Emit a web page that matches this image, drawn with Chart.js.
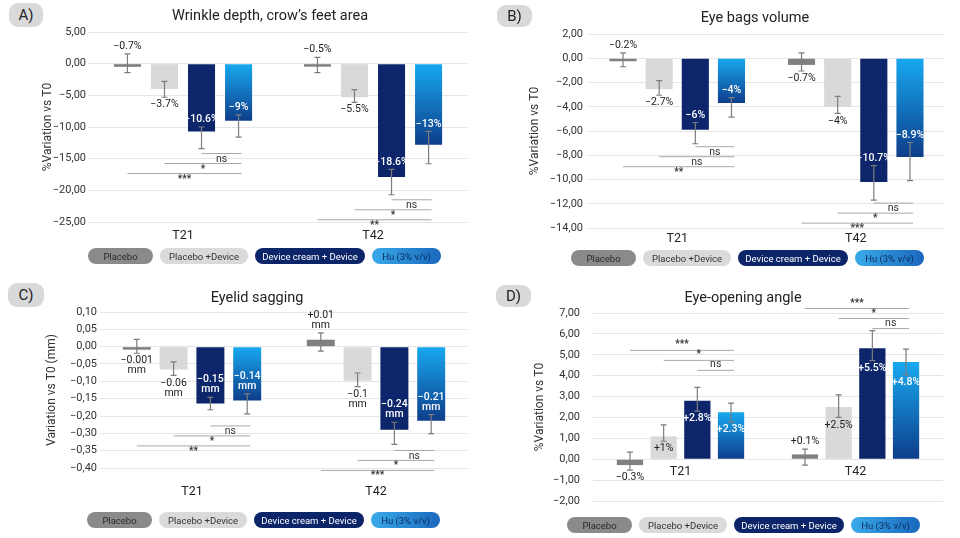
<!DOCTYPE html>
<html lang="en">
<head>
<meta charset="UTF-8">
<title>Eye contour results</title>
<script src="https://cdn.jsdelivr.net/npm/chart.js@4.4.1/dist/chart.umd.min.js"></script>
<style>
  body { margin: 0; background: #fff; font-family: Roboto, sans-serif; }
  #page { position: relative; width: 960px; height: 538px; overflow: hidden; }
  .panel { position: absolute; width: 480px; height: 269px; }
  .panel canvas { position: absolute; left: 0; top: 0; }
  .tag { position: absolute; background: #d9d9d9; border-radius: 9px; font-size: 15px; color: #222;
         display: flex; align-items: center; justify-content: center; }
  .title { position: absolute; transform: translate(-50%, -50%); font-size: 14.5px; color: #222; white-space: nowrap; }
  .legend { position: absolute; display: flex; gap: 7px; }
  .legend span { height: 16px; border-radius: 8px; font-size: 9.5px; display: flex; align-items: center; justify-content: center; }
  .legend span:nth-child(1) { width: 65px; background: #8a8a8a; color: #2a2a2a; }
  .legend span:nth-child(2) { width: 88px; background: #dadada; color: #333; }
  .legend span:nth-child(3) { width: 110px; background: #0c2468; color: #fff; }
  .legend span:nth-child(4) { width: 69px; background: linear-gradient(90deg, #3aaae9, #1a68bd); color: #0d2a5a; }
</style>
</head>
<body>
<div id="page"></div>
<script>
const groups = ['T21', 'T42'];
const seriesNames = ['Placebo', 'Placebo +Device', 'Device cream + Device', 'Hu (3% v/v)'];

// A) wrinkle depth, one row per series: [T21, T42]
const wrinkleValues  = [[-0.5, -0.45], [-4.0, -5.3], [-10.7, -17.9], [-9.0, -12.8]];
const wrinkleErrLow  = [[-1.4, -1.4], [-5.3, -6.1], [-13.4, -20.7], [-11.6, -15.8]];
const wrinkleErrHigh = [[1.55, 1.0], [-2.8, -4.1], [-10.0, -16.7], [-8.1, -10.7]];
const wrinkleLabels  = [['−0.7%', '−0.5%'], ['−3.7%', '−5.5%'], ['−10.6%', '−18.6%'], ['−9%', '−13%']];
const wrinkleSig     = [['***', '*', 'ns'], ['**', '*', 'ns']];

// B) eye bags volume
const bagsValues  = [[-0.15, -0.55], [-2.55, -4.0], [-5.9, -10.2], [-3.7, -8.15]];
const bagsErrLow  = [[-0.7, -1.05], [-3.05, -4.55], [-7.05, -11.7], [-4.85, -10.1]];
const bagsErrHigh = [[0.45, 0.45], [-1.85, -3.15], [-5.3, -8.85], [-3.25, -6.95]];
const bagsLabels  = [['−0.2%', '−0.7%'], ['−2.7%', '−4%'], ['−6%', '−10.7%'], ['−4%', '−8.9%']];
const bagsSig     = [['**', 'ns', 'ns'], ['***', '*', 'ns']];

// C) eyelid sagging (mm)
const lidValues  = [[-0.003, 0.02], [-0.066, -0.098], [-0.164, -0.24], [-0.155, -0.214]];
const lidErrLow  = [[-0.019, -0.013], [-0.083, -0.115], [-0.182, -0.282], [-0.194, -0.251]];
const lidErrHigh = [[0.021, 0.04], [-0.044, -0.076], [-0.146, -0.218], [-0.136, -0.196]];
const lidLabels  = [['−0.001\nmm', '+0.01\nmm'], ['−0.06\nmm', '−0.1\nmm'], ['−0.15\nmm', '−0.24\nmm'], ['−0.14\nmm', '−0.21\nmm']];
const lidTicks   = ['0,10', '0,05', '0,00', '−0,05', '−0,10', '−0,15', '−0,20', '−0,30', '−0,35', '−0,40'];
const lidSig     = [['**', '*', 'ns'], ['***', '*', 'ns']];

// D) eye-opening angle
const angleValues  = [[-0.28, 0.23], [1.09, 2.5], [2.8, 5.31], [2.25, 4.66]];
const angleErrLow  = [[-0.52, -0.28], [0.86, 2.0], [2.3, 4.72], [1.78, 4.05]];
const angleErrHigh = [[0.34, 0.48], [1.64, 3.08], [3.44, 6.16], [2.69, 5.27]];
const angleLabels  = [['−0.3%', '+0.1%'], ['+1%', '+2.5%'], ['+2.8%', '+5.5%'], ['+2.3%', '+4.8%']];
const angleSig     = [['***', '*', 'ns'], ['***', '*', 'ns']];

Chart.defaults.font.family = 'Roboto';
Chart.defaults.color = '#333';

const panels = [
  { key: 'A', x: 0, y: 0, title: 'Wrinkle depth, crow\u2019s feet area', yTitle: '%Variation vs T0',
    values: wrinkleValues, low: wrinkleErrLow, high: wrinkleErrHigh, labels: wrinkleLabels, sig: wrinkleSig,
    min: -25, max: 5, step: 5,
    box: { left: 88, right: 12, top: 32, bottom: 17, xHeight: 30, xPad: 6, tickPad: 2, yTitlePad: 41 },
    bars: [0.78, 0.73], sides: [['in', 'in'], ['out', 'out'], ['in', 'in'], ['in', 'in']],
    sigGap: [5, 5], sigAbove: false, tag: [9, 3, 34, 24], titleAt: [270, 15], legendAt: [88, 248] },
  { key: 'B', x: 480, y: 0, title: 'Eye bags volume', yTitle: '%Variation vs T0',
    values: bagsValues, low: bagsErrLow, high: bagsErrHigh, labels: bagsLabels, sig: bagsSig,
    min: -14, max: 2, step: 2,
    box: { left: 108, right: 15, top: 34, bottom: 11, xHeight: 30, xPad: 3, tickPad: 5, yTitlePad: 48 },
    bars: [0.81, 0.75], sides: [['in', 'out'], ['out', 'out'], ['in', 'in'], ['in', 'in']],
    sigGap: [3, 3], sigAbove: false, tag: [17, 5, 35, 22], titleAt: [275, 17], legendAt: [91, 250] },
  { key: 'C', x: 0, y: 269, title: 'Eyelid sagging', yTitle: 'Variation vs T0 (mm)',
    values: lidValues, low: lidErrLow, high: lidErrHigh, labels: lidLabels, sig: lidSig, ticks: lidTicks,
    min: -0.35, max: 0.10, step: 0.05,
    box: { left: 100, right: 12, top: 43, bottom: 35, xHeight: 35, xPad: 16, tickPad: 3, yTitlePad: 45 },
    bars: [0.80, 0.76], sides: [['out', 'out'], ['out', 'out'], ['in', 'in'], ['in', 'in']],
    sigGap: [12, 6], sigAbove: false, tag: [8, 14, 36, 24], titleAt: [257, 28], legendAt: [87, 243] },
  { key: 'D', x: 480, y: 269, title: 'Eye-opening angle', yTitle: '%Variation vs T0',
    values: angleValues, low: angleErrLow, high: angleErrHigh, labels: angleLabels, sig: angleSig,
    min: -2, max: 7, step: 1, xAtZero: true,
    box: { left: 113, right: 17, top: 44, bottom: 37, xHeight: 30, xPad: 5, tickPad: 13, yTitlePad: 53 },
    bars: [0.77, 0.78], sides: [['out', 'out'], ['in', 'in'], ['in', 'in'], ['in', 'in']],
    sigGap: [17, 2], sigAbove: true, tag: [16, 16, 35, 22], titleAt: [263, 28], legendAt: [87, 248] }
];

function fmtTick(v) {
  if (Math.abs(v) < 1e-9) v = 0;
  return v.toFixed(2).replace('.', ',').replace('-', '−');
}

function huGradient(c) {
  const chart = c.chart;
  if (c.type !== 'data' || !chart.chartArea) return '#1b8fd8';
  const ys = chart.scales.y;
  const a = ys.getPixelForValue(0), b = ys.getPixelForValue(c.raw);
  if (!isFinite(a) || !isFinite(b) || a === b) return '#1b8fd8';
  const g = chart.ctx.createLinearGradient(0, Math.min(a, b), 0, Math.max(a, b));
  g.addColorStop(0, '#17a9f0');
  g.addColorStop(1, '#0e3d8a');
  return g;
}

const barColors = ['#808080', '#d9d9d9', '#0d256a', huGradient];

function makeOverlay(p) {
  return {
    id: 'overlay',
    afterDatasetsDraw(chart) {
      const ctx = chart.ctx;
      const ys = chart.scales.y;
      ctx.save();
      // error bars
      ctx.strokeStyle = '#7d7d7d';
      ctx.lineWidth = 1.2;
      p.values.forEach((row, s) => {
        const meta = chart.getDatasetMeta(s);
        row.forEach((v, g) => {
          const x = meta.data[g].x;
          const yl = ys.getPixelForValue(p.low[s][g]);
          const yh = ys.getPixelForValue(p.high[s][g]);
          ctx.beginPath();
          ctx.moveTo(x, yl); ctx.lineTo(x, yh);
          ctx.moveTo(x - 3, yl); ctx.lineTo(x + 3, yl);
          ctx.moveTo(x - 3, yh); ctx.lineTo(x + 3, yh);
          ctx.stroke();
        });
      });
      // value labels
      ctx.textAlign = 'center';
      ctx.textBaseline = 'middle';
      p.values.forEach((row, s) => {
        const meta = chart.getDatasetMeta(s);
        row.forEach((v, g) => {
          const x = meta.data[g].x;
          const yl = ys.getPixelForValue(p.low[s][g]);
          const yh = ys.getPixelForValue(p.high[s][g]);
          const above = (v < 0) === (p.sides[s][g] === 'in');
          const lines = p.labels[s][g].split('\n');
          ctx.fillStyle = s >= 2 ? '#fff' : '#222';
          ctx.font = (s >= 2 ? '500 ' : '') + '10.5px Roboto';
          lines.forEach((t, i) => {
            let ty;
            if (above) ty = Math.min(yl, yh) - 7.5 - (lines.length - 1 - i) * 10;
            else ty = Math.max(yl, yh) + 7.5 + i * 10;
            ctx.fillText(t, x, ty);
          });
        });
      });
      // significance brackets
      p.sig.forEach((marks, g) => {
        const px = [];
        for (let s = 0; s < 4; s++) {
          px.push(ys.getPixelForValue(p.low[s][g]), ys.getPixelForValue(p.high[s][g]));
        }
        const dir = p.sigAbove ? -1 : 1;
        const edge = p.sigAbove ? Math.min(...px) : Math.max(...px);
        const xEnd = chart.getDatasetMeta(3).data[g].x + 3;
        marks.forEach((m, k) => {
          const level = edge + dir * (p.sigGap[g] + (2 - k) * 10);
          const xStart = chart.getDatasetMeta(k).data[g].x;
          ctx.strokeStyle = '#a8a8a8';
          ctx.lineWidth = 1;
          ctx.beginPath();
          ctx.moveTo(xStart, level);
          ctx.lineTo(xEnd, level);
          ctx.stroke();
          ctx.fillStyle = '#333';
          ctx.font = m === 'ns' ? '10.5px Roboto' : 'bold 10px Roboto';
          ctx.fillText(m, (xStart + xEnd) / 2, level + dir * 5.5);
        });
      });
      ctx.restore();
    }
  };
}

const page = document.getElementById('page');

panels.forEach(p => {
  const div = document.createElement('div');
  div.className = 'panel';
  div.style.left = p.x + 'px';
  div.style.top = p.y + 'px';
  page.appendChild(div);

  const canvas = document.createElement('canvas');
  canvas.width = 480;
  canvas.height = 269;
  div.appendChild(canvas);

  const tag = document.createElement('div');
  tag.className = 'tag';
  tag.textContent = p.key + ')';
  tag.style.left = p.tag[0] + 'px';
  tag.style.top = p.tag[1] + 'px';
  tag.style.width = p.tag[2] + 'px';
  tag.style.height = p.tag[3] + 'px';
  div.appendChild(tag);

  const title = document.createElement('div');
  title.className = 'title';
  title.textContent = p.title;
  title.style.left = p.titleAt[0] + 'px';
  title.style.top = p.titleAt[1] + 'px';
  div.appendChild(title);

  const legend = document.createElement('div');
  legend.className = 'legend';
  legend.style.left = p.legendAt[0] + 'px';
  legend.style.top = p.legendAt[1] + 'px';
  seriesNames.forEach(n => {
    const s = document.createElement('span');
    s.textContent = n;
    legend.appendChild(s);
  });
  div.appendChild(legend);

  new Chart(canvas, {
    type: 'bar',
    data: {
      labels: groups,
      datasets: seriesNames.map((name, s) => ({
        label: name,
        data: p.values[s],
        backgroundColor: barColors[s],
        minBarLength: s === 0 ? 3 : 0,
        categoryPercentage: p.bars[0],
        barPercentage: p.bars[1]
      }))
    },
    options: {
      responsive: false,
      animation: false,
      layout: { padding: { left: 0, right: p.box.right, top: p.box.top, bottom: p.box.bottom } },
      plugins: { legend: { display: false }, tooltip: { enabled: false } },
      scales: {
        x: {
          position: p.xAtZero ? { y: 0 } : 'bottom',
          grid: { display: false, drawTicks: false },
          border: { display: false },
          ticks: { padding: p.box.xPad, color: '#222', font: { size: 12.5 } },
          afterFit: s => { s.height = p.box.xHeight; }
        },
        y: {
          min: p.min,
          max: p.max,
          grid: { color: '#e6e6e6', drawTicks: false },
          border: { display: false },
          ticks: {
            stepSize: p.step,
            padding: p.box.tickPad,
            color: '#333',
            font: { size: 11 },
            callback: (v, i, ticks) => p.ticks ? p.ticks[ticks.length - 1 - i] : fmtTick(v)
          },
          title: { display: true, text: p.yTitle, color: '#333', font: { size: 12 },
                   padding: { top: p.box.yTitlePad, bottom: 0 } },
          afterFit: s => { s.width = p.box.left; }
        }
      }
    },
    plugins: [makeOverlay(p)]
  });
});
</script>
</body>
</html>
